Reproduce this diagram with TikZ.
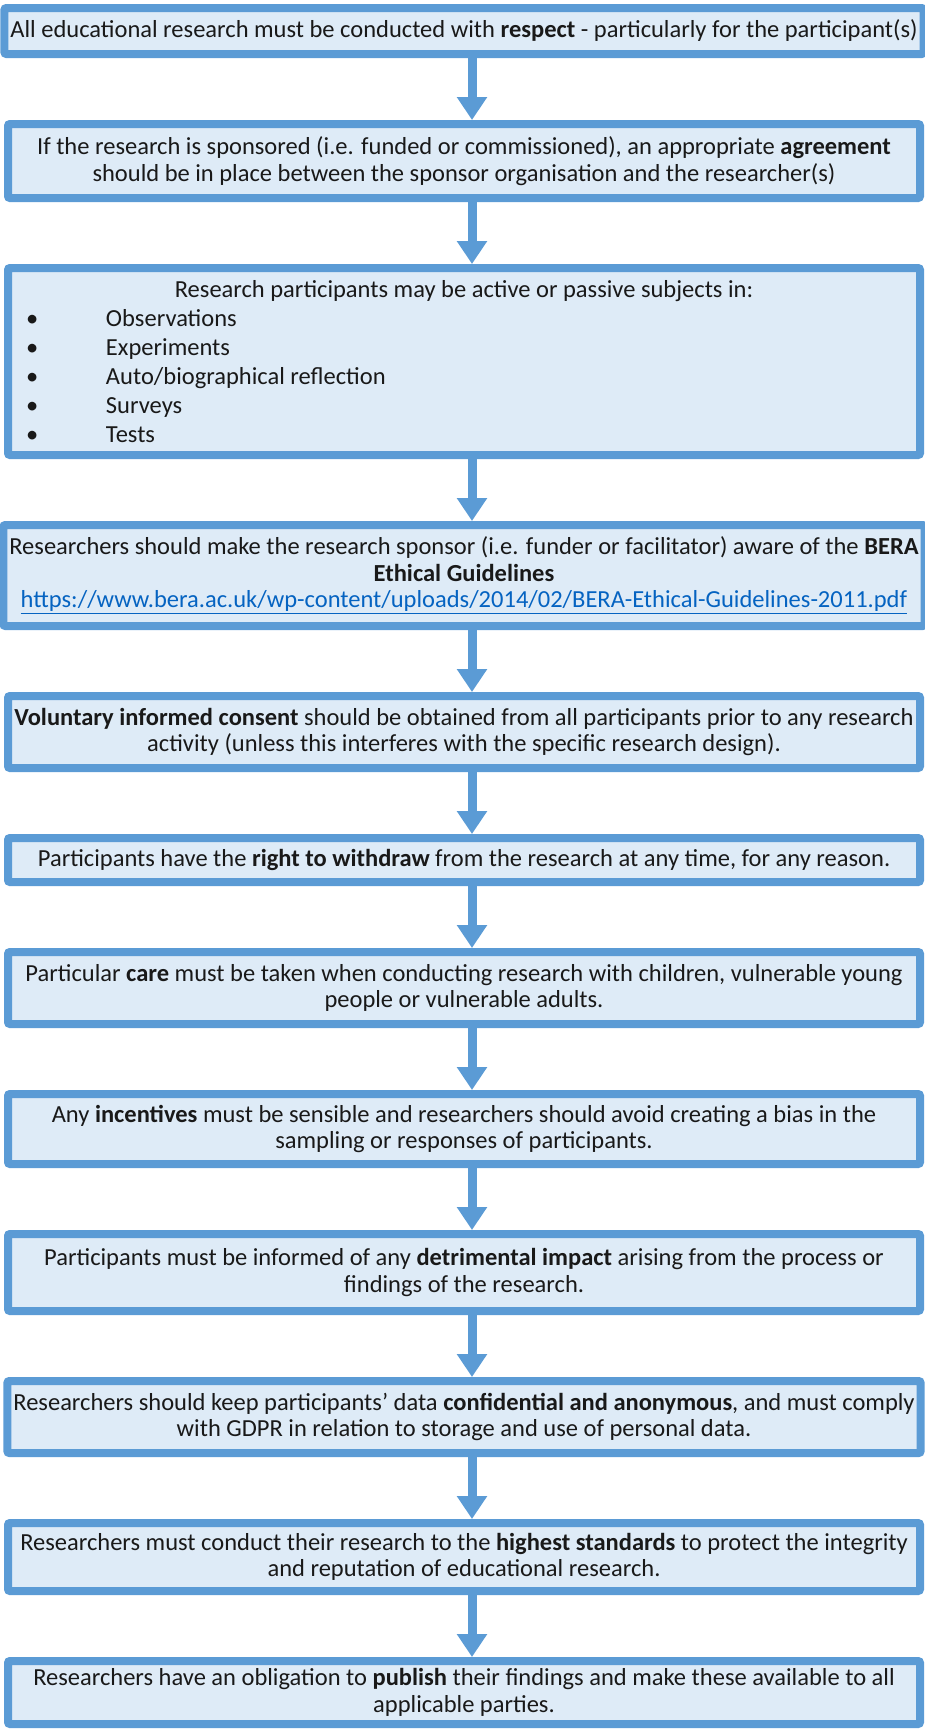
\documentclass[tikz,border=0pt]{standalone}
\usepackage{fontspec}
\setmainfont{Carlito}
\usepackage{xcolor}
\usetikzlibrary{positioning,arrows.meta}
\definecolor{beraborder}{RGB}{91,155,213}
\definecolor{berafill}{RGB}{222,235,247}
\definecolor{beralink}{RGB}{5,99,193}
\newcommand{\listitem}[1]{\hspace*{12pt}\makebox[80pt][l]{\textbullet}#1}
\newcommand{\weblink}[1]{\textcolor{beralink}{\underline{#1}}}

\begin{document}
\begin{tikzpicture}[
    node distance=62pt,
    box/.style={rectangle, draw=beraborder, fill=berafill, line width=8pt, rounded corners=2pt, minimum width=912pt, inner xsep=6pt, inner ysep=4pt, align=center, text=black!90, font=\fontsize{24.5}{26.5}\selectfont},
    arrow/.style={-{Triangle[width=29pt,length=23pt]}, line width=9pt, beraborder}
]

\useasboundingbox (0,0) rectangle (925pt,-1733pt);

% Principles, top to bottom
\node[box, minimum height=46pt] (respect) at (464pt,-31pt) {All educational research must be conducted with \textbf{respect} - particularly for the participant(s)};
\node[box, minimum height=74pt, below=of respect] (agreement) {If the research is sponsored (i.e. funded or commissioned), an appropriate \textbf{agreement}\\should be in place between the sponsor organisation and the researcher(s)};
\node[box, minimum height=187pt, below=of agreement, align=left, font=\fontsize{24.5}{29}\selectfont] (subjects) {\makebox[900pt]{Research participants may be active or passive subjects in:}\\
\listitem{Observations}\\
\listitem{Experiments}\\
\listitem{Auto/biographical reflection}\\
\listitem{Surveys}\\
\listitem{Tests}};
\node[box, minimum height=101pt, below=of subjects] (sponsor) {Researchers should make the research sponsor (i.e. funder or facilitator) aware of the \textbf{BERA}\\\textbf{Ethical Guidelines}\\\weblink{https://www.bera.ac.uk/wp-content/uploads/2014/02/BERA-Ethical-Guidelines-2011.pdf}};
\node[box, minimum height=72pt, below=of sponsor] (consent) {\textbf{Voluntary informed consent} should be obtained from all participants prior to any research\\activity (unless this interferes with the specific research design).};
\node[box, minimum height=44pt, below=of consent] (withdraw) {Participants have the \textbf{right to withdraw} from the research at any time, for any reason.};
\node[box, minimum height=72pt, below=of withdraw] (care) {Particular \textbf{care} must be taken when conducting research with children, vulnerable young\\people or vulnerable adults.};
\node[box, minimum height=70pt, below=of care] (incentives) {Any \textbf{incentives} must be sensible and researchers should avoid creating a bias in the\\sampling or responses of participants.};
\node[box, minimum height=77pt, below=of incentives] (impact) {Participants must be informed of any \textbf{detrimental impact} arising from the process or\\findings of the research.};
\node[box, minimum height=72pt, below=of impact] (privacy) {Researchers should keep participants’ data \textbf{confidential and anonymous}, and must comply\\with GDPR in relation to storage and use of personal data.};
\node[box, minimum height=68pt, below=of privacy] (standards) {Researchers must conduct their research to the \textbf{highest standards} to protect the integrity\\and reputation of educational research.};
\node[box, minimum height=63pt, below=of standards] (publish) {Researchers have an obligation to \textbf{publish} their findings and make these available to all\\applicable parties.};

% Arrows
\foreach \from/\to in {respect/agreement, agreement/subjects, subjects/sponsor, sponsor/consent, consent/withdraw, withdraw/care, care/incentives, incentives/impact, impact/privacy, privacy/standards, standards/publish}
    \draw[arrow] ([xshift=8pt]\from.south) -- ([xshift=8pt]\to.north);

\end{tikzpicture}
\end{document}
